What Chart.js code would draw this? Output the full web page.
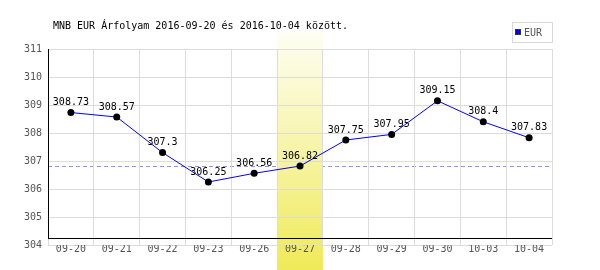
<!DOCTYPE html>
<html>
<head>
<meta charset="utf-8">
<script src="https://cdn.jsdelivr.net/npm/chart.js@4"></script>
<style>
html,body{margin:0;padding:0;background:#fff;}
canvas{display:block;}
</style>
</head>
<body>
<canvas id="c" width="600" height="270"></canvas>
<script>
const categories = ['09-20','09-21','09-22','09-23','09-26','09-27','09-28','09-29','09-30','10-03','10-04'];
const eurValues = [308.73, 308.57, 307.3, 306.25, 306.56, 306.82, 307.75, 307.95, 309.15, 308.4, 307.83];
const yTicks = [304, 305, 306, 307, 308, 309, 310, 311];
const highlightIndex = 5;
const titleText = 'MNB EUR Árfolyam 2016-09-20 és 2016-10-04 között.';
const seriesName = 'EUR';

const MONO = '"DejaVu Sans Mono", "Liberation Mono", monospace';

const customPlugin = {
  id: 'custom',
  beforeDraw(chart) {
    const ctx = chart.ctx;
    const xs = chart.scales.x, ys = chart.scales.y;
    const ca = chart.chartArea;
    // dashed reference line at highlighted value
    const yRef = ys.getPixelForValue(eurValues[highlightIndex]);
    ctx.save();
    ctx.strokeStyle = '#8f8fff';
    ctx.lineWidth = 1;
    ctx.setLineDash([4, 3]);
    ctx.beginPath();
    ctx.moveTo(ca.left, Math.round(yRef) + 0.5);
    ctx.lineTo(ca.right, Math.round(yRef) + 0.5);
    ctx.stroke();
    ctx.restore();
    // highlight band
    const cx = xs.getPixelForValue(highlightIndex);
    const half = (xs.getPixelForValue(1) - xs.getPixelForValue(0)) / 2;
    const top = 32, bottom = chart.height;
    const g = ctx.createLinearGradient(0, top, 0, bottom);
    g.addColorStop(0, '#fefef4');
    g.addColorStop(1, '#efea58');
    ctx.save();
    ctx.fillStyle = g;
    ctx.fillRect(Math.round(cx - half), top, Math.round(2 * half), bottom - top);
    ctx.restore();
    // title
    ctx.save();
    ctx.font = '10px ' + MONO;
    ctx.fillStyle = '#000';
    ctx.textBaseline = 'middle';
    ctx.textAlign = 'left';
    ctx.fillText(titleText, 53, 26);
    ctx.restore();
    // legend
    ctx.save();
    ctx.strokeStyle = '#d8d8d8';
    ctx.lineWidth = 1;
    ctx.strokeRect(512.5, 22.5, 40, 20);
    ctx.fillStyle = '#0000ff';
    ctx.fillRect(515, 29, 6, 6);
    ctx.strokeStyle = '#333';
    ctx.strokeRect(515.5, 29.5, 5, 5);
    ctx.font = '10px ' + MONO;
    ctx.fillStyle = '#555';
    ctx.textBaseline = 'middle';
    ctx.fillText(chart.data.datasets[0].label, 524, 33);
    ctx.restore();
  },
  beforeDatasetsDraw(chart) {
    const ctx = chart.ctx;
    const ys = chart.scales.y;
    const ca = chart.chartArea;
    const yAxis = Math.round(ys.getPixelForValue(304.26)) + 0.5;
    ctx.save();
    ctx.strokeStyle = '#000';
    ctx.lineWidth = 1;
    ctx.beginPath();
    ctx.moveTo(ca.left + 0.5, ca.top);
    ctx.lineTo(ca.left + 0.5, yAxis);
    ctx.moveTo(ca.left, yAxis);
    ctx.lineTo(ca.right, yAxis);
    ctx.stroke();
    ctx.restore();
  },
  afterDatasetsDraw(chart) {
    const ctx = chart.ctx;
    const meta = chart.getDatasetMeta(0);
    ctx.save();
    ctx.font = '10px ' + MONO;
    ctx.fillStyle = '#000';
    ctx.textAlign = 'center';
    ctx.textBaseline = 'middle';
    meta.data.forEach((pt, i) => {
      ctx.fillText(String(eurValues[i]), pt.x, pt.y - 10);
    });
    ctx.restore();
  }
};

new Chart(document.getElementById('c'), {
  type: 'line',
  data: {
    labels: categories,
    datasets: [{
      label: seriesName,
      data: eurValues,
      borderColor: '#0000ff',
      borderWidth: 1,
      pointRadius: 3.5,
      pointBackgroundColor: '#000',
      pointBorderWidth: 0,
      pointBorderColor: '#000',
      tension: 0,
      fill: false
    }]
  },
  options: {
    responsive: false,
    animation: false,
    events: [],
    layout: { padding: { left: 0, right: 48, top: 49, bottom: 0 } },
    plugins: { legend: { display: false }, title: { display: false }, tooltip: { enabled: false } },
    scales: {
      x: {
        type: 'category',
        offset: true,
        grid: { offset: true, color: '#dcdcdc', drawTicks: false },
        border: { display: false },
        ticks: { color: '#555', font: { family: MONO, size: 10 }, padding: -2, maxRotation: 0, autoSkip: false },
        afterFit(s) { s.height = 25; }
      },
      y: {
        min: 304,
        max: 311,
        afterBuildTicks(s) { s.ticks = yTicks.map(v => ({ value: v })); },
        grid: { color: '#dcdcdc', drawTicks: false },
        border: { display: false },
        ticks: { color: '#555', font: { family: MONO, size: 10 }, padding: 6 },
        afterFit(s) { s.width = 48; }
      }
    }
  },
  plugins: [customPlugin]
});
</script>
</body>
</html>
